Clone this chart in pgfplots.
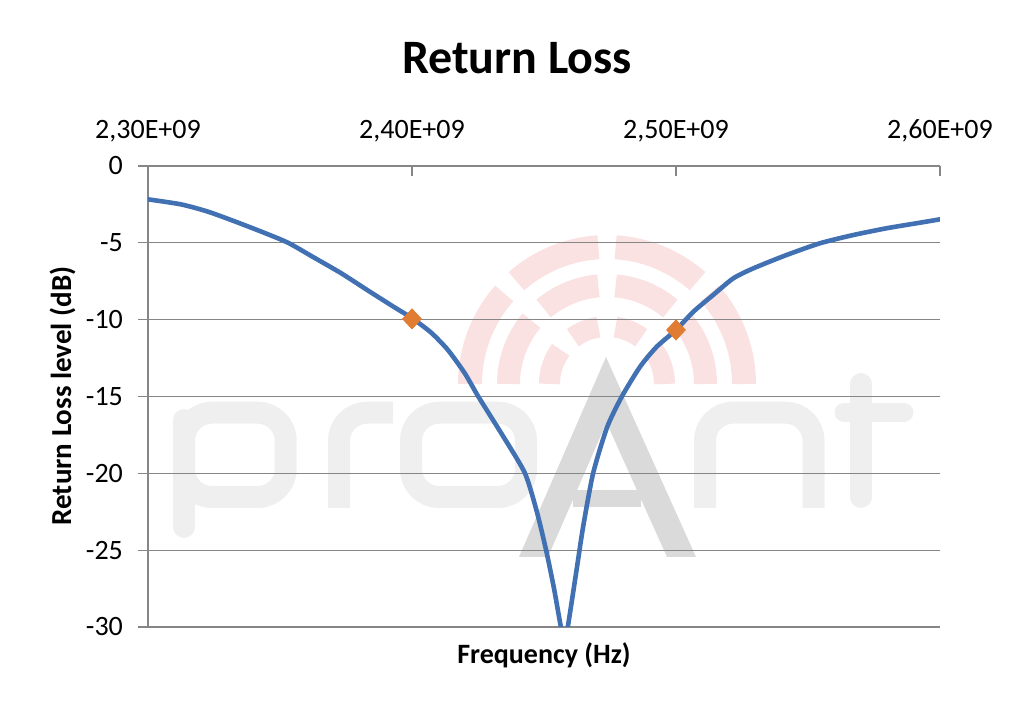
\documentclass[border=0pt]{standalone}
\usepackage{fontspec}
\setmainfont{Carlito}
\usepackage{pgfplots}
\usepackage{pgfplotstable}
\pgfplotsset{compat=1.18}
\definecolor{rlblue}{RGB}{65,113,178}
\definecolor{rlorange}{RGB}{224,125,50}
\definecolor{gridgray}{RGB}{134,134,134}
\definecolor{wmlight}{RGB}{239,239,239}
\definecolor{wmA}{RGB}{218,218,218}
\definecolor{wmpink}{RGB}{251,226,226}

% left branch (down to the dip)
\pgfplotstableread{
f db
2.3000 -2.17
2.3126 -2.50
2.3227 -2.97
2.3328 -3.60
2.3429 -4.27
2.3530 -4.99
2.3631 -5.98
2.3732 -6.98
2.3833 -8.10
2.3934 -9.20
2.4000 -9.90
2.4073 -10.85
2.4136 -11.97
2.4200 -13.49
2.4251 -15.00
2.4346 -17.61
2.4428 -20.00
2.4473 -22.50
2.4508 -25.00
2.4538 -27.50
2.4564 -30.00
2.4577 -30.80
}\rlleft

% right branch (from the dip up)
\pgfplotstableread{
f db
2.4577 -30.80
2.4590 -30.00
2.4625 -26.10
2.4648 -23.50
2.4686 -20.00
2.4739 -17.00
2.4795 -15.00
2.4864 -13.06
2.4927 -11.76
2.5000 -10.67
2.5066 -9.48
2.5141 -8.39
2.5217 -7.31
2.5293 -6.66
2.5419 -5.79
2.5545 -5.03
2.5672 -4.49
2.5798 -4.05
2.5924 -3.69
2.6000 -3.47
}\rlright

\begin{document}
\begin{tikzpicture}
\path[use as bounding box] (-74pt,-40pt) rectangle (443.5pt,313.5pt);
% watermark (pixel coordinates of the reference)
\begin{scope}[shift={(-74pt,313.5pt)},x=0.5pt,y=-0.5pt]
  \foreach \r/\w/\g in {137/12pt/3.6, 98.5/11.5pt/5, 57.5/10.5pt/8.5} {
    \draw[wmpink,line width=\w] (607,384) ++(180:\r) arc[start angle=180,end angle={225-\g},radius=\r];
    \draw[wmpink,line width=\w] (607,384) ++({225+\g}:\r) arc[start angle={225+\g},end angle={270-\g},radius=\r];
    \draw[wmpink,line width=\w] (607,384) ++({270+\g}:\r) arc[start angle={270+\g},end angle={315-\g},radius=\r];
    \draw[wmpink,line width=\w] (607,384) ++({315+\g}:\r) arc[start angle={315+\g},end angle=360,radius=\r];
  }
  \begin{scope}[wmlight,line width=11pt]
    \draw[rounded corners=14pt] (184,412.7) rectangle (285.7,497);
    \draw[line cap=round] (184,420) -- (184,527);
    \draw[rounded corners=14pt] (339,508) -- (339,412.7) -- (393,412.7);
    \draw[rounded corners=14pt] (411,412.7) rectangle (526,497);
    \draw[rounded corners=14pt] (705,508) -- (705,412.7) -- (813.5,412.7) -- (813.5,508);
    \draw[line cap=round] (861,384) -- (861,497);
    \draw[line cap=round,line width=9.5pt] (844,412.5) -- (904,412.5);
  \end{scope}
  \fill[wmA] (606,357) -- (696,557) -- (667,557) -- (606.5,422.5) -- (548,557) -- (519,557) -- cycle;
  \fill[wmA] (573,490) rectangle (641,507);
\end{scope}

\node[font=\fontsize{24}{29}\selectfont\bfseries] at (184.5pt,284.5pt) {Return Loss};
\node[font=\fontsize{14}{17}\selectfont\bfseries] at (198pt,-14pt) {Frequency (Hz)};
\node[font=\fontsize{14.5}{17}\selectfont\bfseries,rotate=90] at (-42.75pt,115.5pt) {Return Loss level (dB)};

\begin{axis}[
  scale only axis, width=396pt, height=230.5pt,
  xmin=2.3, xmax=2.6, ymin=-30, ymax=0,
  axis x line=none, axis y line*=left,
  ytick={-30,-25,-20,-15,-10,-5,0},
  ymajorgrids, grid style={gridgray,line width=0.6pt},
  axis line style={gridgray,line width=0.6pt},
  tick style={gridgray,line width=0.6pt},
  major tick length=5pt, tick align=outside,
  yticklabel style={font=\fontsize{14}{17}\selectfont, anchor=east, xshift=-4pt},
  /pgf/number format/assume math mode=true,
]
\addplot[rlblue, line width=2.3pt, line join=round, line cap=round, no markers, smooth, tension=0.4] table[x=f,y=db]{\rlleft};
\addplot[rlblue, line width=2.3pt, line join=round, line cap=round, no markers, smooth, tension=0.4] table[x=f,y=db]{\rlright};
\addplot[only marks, mark=diamond*, mark size=5pt, color=rlorange,
  mark options={fill=rlorange, draw=rlorange, xscale=1.25}] coordinates {(2.40,-9.95) (2.50,-10.67)};
\end{axis}

\begin{axis}[
  scale only axis, width=396pt, height=230.5pt,
  xmin=2.3, xmax=2.6, ymin=-30, ymax=0,
  axis x line*=top, axis y line=none,
  xtick={2.3,2.4,2.5,2.6},
  xticklabels={{2,30E+09},{2,40E+09},{2,50E+09},{2,60E+09}},
  tick align=inside, major tick length=5pt,
  axis line style={gridgray,line width=0.6pt},
  tick style={gridgray,line width=0.6pt},
  xticklabel style={font=\fontsize{14}{17}\selectfont, anchor=base, yshift=13.5pt},
]
\end{axis}
\end{tikzpicture}
\end{document}
